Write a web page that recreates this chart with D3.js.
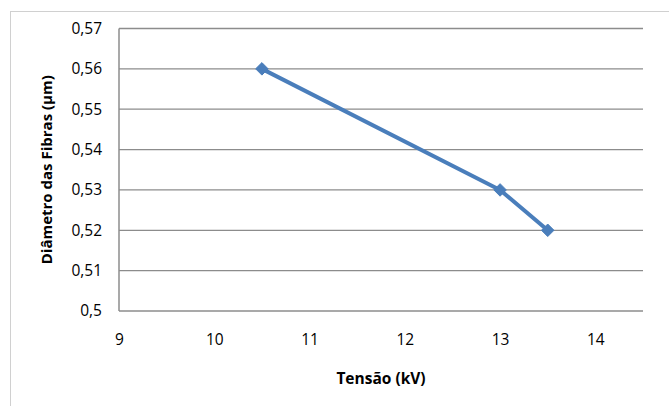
<!DOCTYPE html>
<html><head><meta charset="utf-8">
<script src="https://cdn.jsdelivr.net/npm/d3@7"></script>
<style>body{margin:0;background:#fff}svg{display:block}</style>
</head><body>
<svg id="c" width="669" height="406"></svg>
<script>
const tensao = [10.5, 13, 13.5];
const diametro = [0.56, 0.53, 0.52];
const xTicks = [9, 10, 11, 12, 13, 14];
const yTicks = [0.5, 0.51, 0.52, 0.53, 0.54, 0.55, 0.56, 0.57];
const xTitle = "Tensão (kV)";
const yTitle = "Diâmetro das Fibras (µm)";

const svg = d3.select("#c");
const font = "'Open Sans', sans-serif";
// outer chart border
svg.append("rect").attr("x", 10.5).attr("y", 11.5).attr("width", 700).attr("height", 500)
  .attr("fill", "#fff").attr("stroke", "#d0d0d0").attr("stroke-width", 1);

const L = 119, R = 643, T = 28.5, B = 311;
const x = d3.scaleLinear().domain([9, 14.5]).range([L, R]);
const y = d3.scaleLinear().domain([0.5, 0.57]).range([B, T]);

// gridlines
svg.append("g").selectAll("line").data(yTicks.slice(1)).join("line")
  .attr("x1", L).attr("x2", R).attr("y1", d => y(d)).attr("y2", d => y(d))
  .attr("stroke", "#8c8c8c").attr("stroke-width", 1.3);

// axes
const fmt = d => d3.format(".2~f")(d).replace(".", ",");
const ya = svg.append("g").attr("transform", `translate(${L},0)`)
  .call(d3.axisLeft(y).tickValues(yTicks).tickSize(0).tickPadding(17).tickFormat(fmt));
const xa = svg.append("g").attr("transform", `translate(0,${B})`)
  .call(d3.axisBottom(x).tickValues(xTicks).tickSize(0).tickPadding(23).tickFormat(d3.format("d")));
[ya, xa].forEach(g => {
  g.select(".domain").attr("stroke", "#8c8c8c").attr("stroke-width", 1.5);
  g.selectAll("text").attr("font-family", font).attr("font-size", 15.5).attr("fill", "#000");
});
ya.select(".domain").attr("d", `M0,${B}V${T}`);
xa.select(".domain").attr("d", `M${L},0H${R}`);

// series
const pts = tensao.map((t, i) => [t, diametro[i]]);
svg.append("path").datum(pts)
  .attr("d", d3.line().x(d => x(d[0])).y(d => y(d[1])))
  .attr("fill", "none").attr("stroke", "#4a7ebb").attr("stroke-width", 4)
  .attr("stroke-linejoin", "round");
svg.append("g").selectAll("path").data(pts).join("path")
  .attr("transform", d => `translate(${x(d[0])},${y(d[1])})`)
  .attr("d", d3.symbol(d3.symbolDiamond2, 100))
  .attr("fill", "#4a7ebb").attr("stroke", "#4a7ebb").attr("stroke-width", 1);

// titles
svg.append("text").attr("x", (L + R) / 2).attr("y", 384).attr("text-anchor", "middle")
  .attr("font-family", font).attr("font-weight", "bold").attr("font-size", 15.5).text(xTitle);
svg.append("text").attr("transform", `translate(52,${(T + B) / 2}) rotate(-90)`)
  .attr("text-anchor", "middle")
  .attr("font-family", font).attr("font-weight", "bold").attr("font-size", 15).text(yTitle);
</script>
</body></html>
